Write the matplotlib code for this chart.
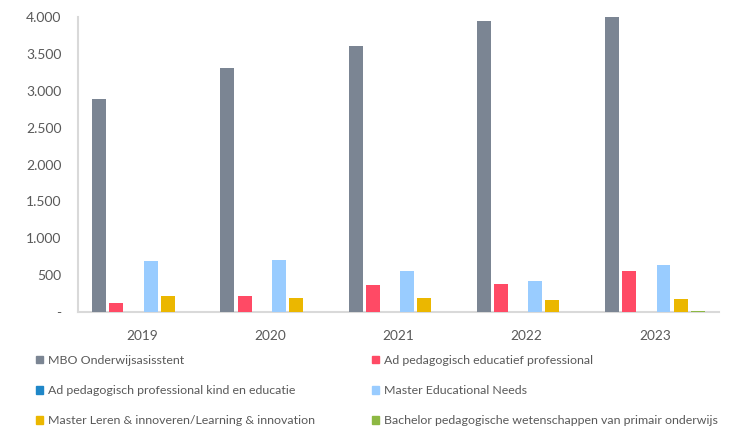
import matplotlib.pyplot as plt
import matplotlib.patches as mpatches
import numpy as np

years = ['2019', '2020', '2021', '2022', '2023']

series = [
    'MBO Onderwijsasisstent',
    'Ad pedagogisch educatief professional',
    'Ad pedagogisch professional kind en educatie',
    'Master Educational Needs',
    'Master Leren & innoveren/Learning & innovation',
    'Bachelor pedagogische wetenschappen van primair onderwijs',
]

mbo = [2885, 3310, 3605, 3945, 4005]
ad_educatief = [122, 217, 362, 384, 556]
ad_kind = [0, 0, 0, 0, 0]
master_needs = [690, 708, 560, 424, 633]
master_leren = [218, 190, 186, 164, 172]
bachelor = [0, 0, 0, 0, 18]

values = [mbo, ad_educatief, ad_kind, master_needs, master_leren, bachelor]
colors = ['#7b8593', '#ff4a65', '#1f87c8', '#99ccff', '#ebb700', '#8db843']

yticks = [0, 500, 1000, 1500, 2000, 2500, 3000, 3500, 4000]
ytick_labels = ['-', '500', '1.000', '1.500', '2.000', '2.500', '3.000', '3.500', '4.000']

plt.rcParams['font.family'] = ['Lato', 'DejaVu Sans']

fig = plt.figure(figsize=(7.37, 4.28), dpi=100)
ax = fig.add_axes([78 / 737, 116 / 428, 641 / 737, 295 / 428])

x = np.arange(len(years))
step = 0.134
width = 0.109
for i, (vals, col) in enumerate(zip(values, colors)):
    ax.bar(x + (i - 2.5) * step, vals, width, color=col,
           linewidth=0, clip_on=False, zorder=2)

ax.set_xlim(-0.5, 4.5)
ax.set_ylim(0, 4000)
ax.set_xticks(x)
ax.set_xticklabels(years, fontsize=9.8, color='#595959')
ax.set_yticks(yticks)
ax.set_yticklabels(ytick_labels, fontsize=10, color='#595959')
ax.tick_params(axis='both', length=0)
ax.tick_params(axis='x', pad=13)
ax.tick_params(axis='y', pad=12)

for side in ['top', 'right']:
    ax.spines[side].set_visible(False)
for side in ['left', 'bottom']:
    ax.spines[side].set_color('#d9d9d9')
    ax.spines[side].set_linewidth(1.5)
    ax.spines[side].set_zorder(1)

# legend in two columns, filled row by row
handles = [mpatches.Patch(color=c, label=s) for s, c in zip(series, colors)]
for col, xpos in enumerate([36 / 737, 372 / 737]):
    fig.legend(handles=handles[col::2], loc='upper left',
               bbox_to_anchor=(xpos, 1 - 355 / 428), frameon=False,
               fontsize=8.9, labelcolor='#595959', handlelength=0.56,
               handleheight=0.56, handletextpad=0.4, labelspacing=1.55,
               borderpad=0, borderaxespad=0)

plt.savefig('out.png', dpi=100)
